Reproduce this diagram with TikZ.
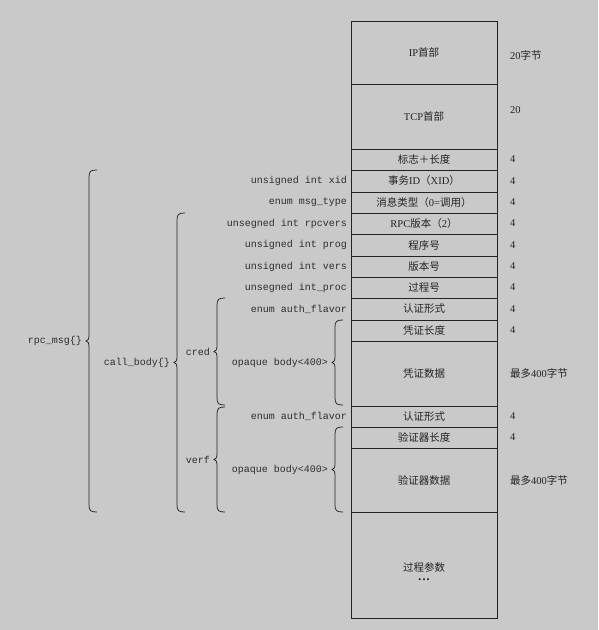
\documentclass[tikz,border=0pt]{standalone}
\usepackage{fontspec}
\setmainfont{Liberation Serif}
\setmonofont{Liberation Mono}
\newfontfamily\cjk{Noto Sans CJK SC}
\newcommand\zh[1]{{\cjk #1}}
\definecolor{bgc}{RGB}{201,201,201}
\definecolor{linec}{RGB}{35,35,35}
\definecolor{txt}{RGB}{35,35,35}
\definecolor{txtb}{RGB}{45,45,45}
\newcommand\mybrace[3]{%
 \draw[bracec] (#1,#2) .. controls ({#1-6},#2) and ({#1-8},{#2+1}) .. ({#1-8},{#2+7})
  -- ({#1-8},{(#2+#3)/2-6}) .. controls ({#1-8},{(#2+#3)/2-2}) and ({#1-9},{(#2+#3)/2}) .. ({#1-11},{(#2+#3)/2})
  .. controls ({#1-9},{(#2+#3)/2}) and ({#1-8},{(#2+#3)/2+2}) .. ({#1-8},{(#2+#3)/2+6})
  -- ({#1-8},{#3-7}) .. controls ({#1-8},{#3-1}) and ({#1-6},#3) .. (#1,#3);}
\tikzset{
 cell/.style={draw=linec, line width=0.8pt, minimum width=146pt, inner sep=0pt,
   font=\fontsize{10.5}{12}\selectfont, text=txt},
 lab/.style={anchor=east, inner sep=0pt, font=\ttfamily\fontsize{10}{12}\selectfont, text=txtb},
 rlab/.style={anchor=west, inner sep=0pt, font=\fontsize{10.5}{12}\selectfont, text=txt},
 btxt/.style={inner sep=0pt, font=\fontsize{10.5}{12}\selectfont, text=txt},
 bracec/.style={draw=linec, line width=0.75pt},
}
\begin{document}
\begin{tikzpicture}[x=1pt,y=-1pt]
\fill[bgc] (0,0) rectangle (598,630);
\useasboundingbox (0,0) rectangle (598,630);
% cells
\node[cell, minimum height=63pt] (r1) at (424,52.5) {IP\zh{首部}};
\node[cell, minimum height=65pt] (r2) at (424,116.5) {TCP\zh{首部}};
\node[cell, minimum height=21pt] (r3) at (424,159.5) {\zh{标志＋长度}};
\node[cell, minimum height=22pt] (r4) at (424,181) {\zh{事务}ID\zh{（}XID\zh{）}};
\node[cell, minimum height=21pt] (r5) at (424,202.5) {\zh{消息类型（}0=\zh{调用）}};
\node[cell, minimum height=21pt] (r6) at (424,223.5) {RPC\zh{版本（}2\zh{）}};
\node[cell, minimum height=22pt] (r7) at (424,245) {\zh{程序号}};
\node[cell, minimum height=21pt] (r8) at (424,266.5) {\zh{版本号}};
\node[cell, minimum height=21pt] (r9) at (424,287.5) {\zh{过程号}};
\node[cell, minimum height=22pt] (r10) at (424,309) {\zh{认证形式}};
\node[cell, minimum height=21pt] (r11) at (424,330.5) {\zh{凭证长度}};
\node[cell, minimum height=65pt] (r12) at (424,373.5) {\zh{凭证数据}};
\node[cell, minimum height=21pt] (r13) at (424,416.5) {\zh{认证形式}};
\node[cell, minimum height=21pt] (r14) at (424,437.5) {\zh{验证器长度}};
\node[cell, minimum height=64pt] (r15) at (424,480) {\zh{验证器数据}};
\node[cell, minimum height=106pt] (r16) at (424,565) {};
\node[btxt] (t16) at (424,567) {\zh{过程参数}};
\node[btxt, font=\fontsize{8.5}{9}\selectfont] (d16) at (424,581) {\textbullet\kern1.2pt\textbullet\kern1.2pt\textbullet};
% right labels
\node[rlab] (s1) at (510,55) {20\zh{字节}};
\node[rlab] (s2) at (510,110) {20};
\foreach \r/\y in {r3/159.5,r4/181,r5/202.5,r6/223.5,r7/245,r8/266.5,r9/287.5,r10/309,r11/330.5,r13/416.5,r14/437.5}
  \node[rlab] (s\r) at (510,\y) {4};
\node[rlab] (s12) at (510,373.5) {\zh{最多}400\zh{字节}};
\node[rlab] (s15) at (510,480) {\zh{最多}400\zh{字节}};
% left labels
\node[lab] (l4) at (347,181) {unsigned int xid};
\node[lab] (l5) at (347,202.5) {enum msg\_type};
\node[lab] (l6) at (347,223.5) {unsegned int rpcvers};
\node[lab] (l7) at (347,245) {unsigned int prog};
\node[lab] (l8) at (347,266.5) {unsigned int vers};
\node[lab] (l9) at (347,287.5) {unsegned int\_proc};
\node[lab] (l10) at (347,309) {enum auth\_flavor};
\node[lab] (l13) at (347,416.5) {enum auth\_flavor};
% braces
\mybrace{97}{170}{512}
\node[lab] (brpc) at (82,341) {rpc\_msg\{\}};
\mybrace{185}{213}{512}
\node[lab] (bcall) at (170,362.5) {call\_body\{\}};
\mybrace{225}{298}{405}
\node[lab] (bcred) at (210,351.5) {cred};
\mybrace{225}{407}{512}
\node[lab] (bverf) at (210,459.5) {verf};
\mybrace{343}{320}{405}
\node[lab] (bop1) at (328,362.5) {opaque body<400>};
\mybrace{343}{427}{512}
\node[lab] (bop2) at (328,469.5) {opaque body<400>};
\end{tikzpicture}
\end{document}
